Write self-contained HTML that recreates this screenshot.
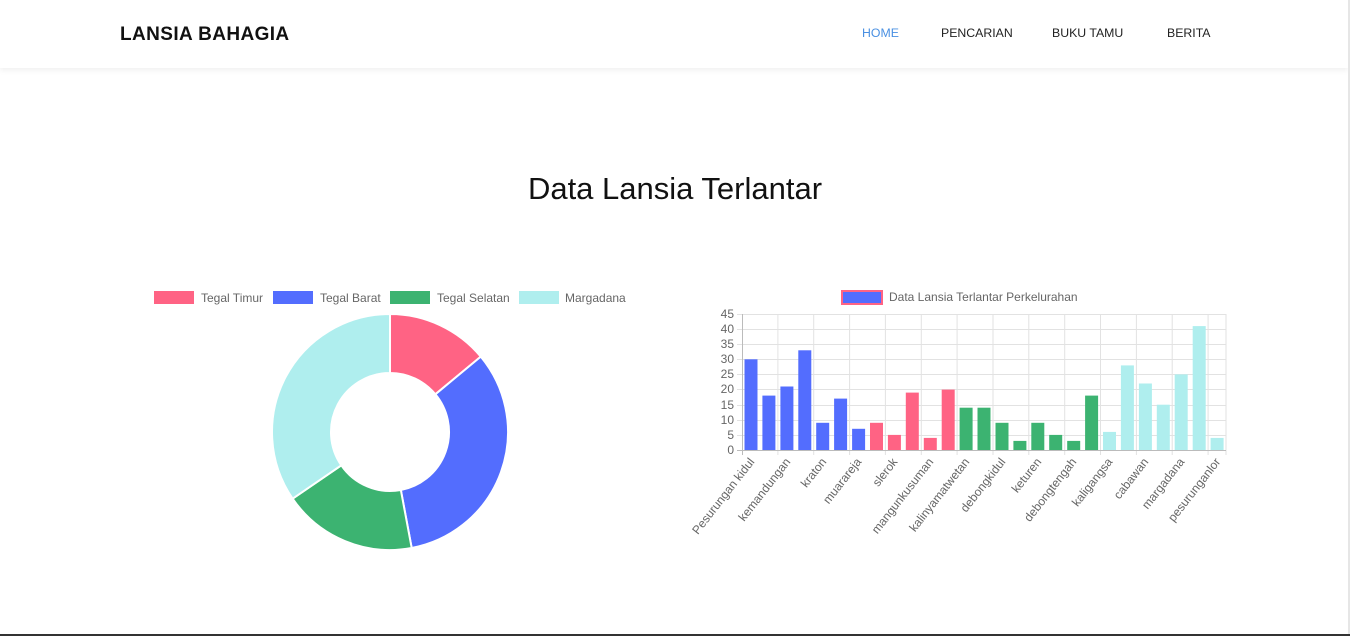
<!DOCTYPE html>
<html><head><meta charset="utf-8"><style>
body{margin:0;width:1350px;height:636px;background:#fff;font-family:"Liberation Sans",sans-serif;overflow:hidden;position:relative}
.nav{position:absolute;left:0;top:0;width:1348px;height:68px;background:#fff;box-shadow:0 2px 6px rgba(0,0,0,0.07)}
.brand{position:absolute;left:120px;top:24px;font-weight:bold;font-size:19px;letter-spacing:0.4px;color:#111}
.nav a{position:absolute;top:26px;font-size:12.3px;color:#222;text-decoration:none}
h1{position:absolute;top:171px;left:0;width:1350px;text-align:center;margin:0;font-weight:normal;font-size:31px;color:#111}
.sb{position:absolute;right:0;top:0;width:2px;height:636px;background:#e6e6e6}
.bot{position:absolute;left:0;bottom:0;width:1350px;height:2px;background:#333}
</style></head><body>
<div class="nav"><div class="brand">LANSIA BAHAGIA</div>
<a style="left:862px;color:#4a90e2">HOME</a><a style="left:941px">PENCARIAN</a><a style="left:1052px">BUKU TAMU</a><a style="left:1167px">BERITA</a></div>
<h1>Data Lansia Terlantar</h1>
<svg width="1350" height="636" style="position:absolute;left:0;top:0" font-family="Liberation Sans, sans-serif">
<g font-size="12" fill="#666">
<rect x="154" y="291" width="40" height="13" fill="#ff6384"/><text x="201" y="302">Tegal Timur</text>
<rect x="273" y="291" width="40" height="13" fill="#536dfe"/><text x="320" y="302">Tegal Barat</text>
<rect x="390" y="291" width="40" height="13" fill="#3cb371"/><text x="437" y="302">Tegal Selatan</text>
<rect x="519" y="291" width="40" height="13" fill="#afeeee"/><text x="565" y="302">Margadana</text>
</g>
<g stroke="#fff" stroke-width="2">
<path d="M390,314 A118,118 0 0 1 480.77,356.6 L435.38,394.3 A59,59 0 0 0 390,373 Z" fill="#ff6384"/>
<path d="M480.77,356.6 A118,118 0 0 1 411.69,548 L400.84,490 A59,59 0 0 0 435.38,394.3 Z" fill="#536dfe"/>
<path d="M411.69,548 A118,118 0 0 1 292.63,498.65 L341.31,465.32 A59,59 0 0 0 400.84,490 Z" fill="#3cb371"/>
<path d="M292.63,498.65 A118,118 0 0 1 390,314 L390,373 A59,59 0 0 0 341.31,465.32 Z" fill="#afeeee"/>
</g>
<rect x="842" y="291" width="40" height="13" fill="#536dfe" stroke="#ff6384" stroke-width="2"/>
<text x="889" y="301" font-size="12" fill="#666">Data Lansia Terlantar Perkelurahan</text>
<g stroke="#e2e2e2" stroke-width="1">
<line x1="737" x2="1226" y1="314.5" y2="314.5"/><line x1="737" x2="1226" y1="329.5" y2="329.5"/><line x1="737" x2="1226" y1="344.5" y2="344.5"/><line x1="737" x2="1226" y1="359.5" y2="359.5"/><line x1="737" x2="1226" y1="374.5" y2="374.5"/><line x1="737" x2="1226" y1="389.5" y2="389.5"/><line x1="737" x2="1226" y1="405.5" y2="405.5"/><line x1="737" x2="1226" y1="420.5" y2="420.5"/><line x1="737" x2="1226" y1="435.5" y2="435.5"/>
<line y1="314" y2="455" x1="777.9" x2="777.9"/><line y1="314" y2="455" x1="813.7" x2="813.7"/><line y1="314" y2="455" x1="849.6" x2="849.6"/><line y1="314" y2="455" x1="885.4" x2="885.4"/><line y1="314" y2="455" x1="921.3" x2="921.3"/><line y1="314" y2="455" x1="957.1" x2="957.1"/><line y1="314" y2="455" x1="993" x2="993"/><line y1="314" y2="455" x1="1028.8" x2="1028.8"/><line y1="314" y2="455" x1="1064.7" x2="1064.7"/><line y1="314" y2="455" x1="1100.5" x2="1100.5"/><line y1="314" y2="455" x1="1136.4" x2="1136.4"/><line y1="314" y2="455" x1="1172.2" x2="1172.2"/><line y1="314" y2="455" x1="1208.1" x2="1208.1"/><line y1="314" y2="455" x1="1226" x2="1226"/>
</g>
<line x1="742.5" x2="742.5" y1="314" y2="455" stroke="#bbb"/><line x1="737" x2="1226" y1="450.5" y2="450.5" stroke="#bbb"/>
<g font-size="12" fill="#666" text-anchor="end">
<text x="734" y="318">45</text><text x="734" y="333">40</text><text x="734" y="348">35</text><text x="734" y="363">30</text><text x="734" y="378">25</text><text x="734" y="393">20</text><text x="734" y="409">15</text><text x="734" y="424">10</text><text x="734" y="439">5</text><text x="734" y="454">0</text>
</g>
<g transform="translate(0,450) scale(1,-1)">
<g fill="#536dfe"><rect x="744.5" width="13" height="90.7"/><rect x="762.4" width="13" height="54.4"/><rect x="780.4" width="13" height="63.5"/><rect x="798.3" width="13" height="99.7"/><rect x="816.2" width="13" height="27.2"/><rect x="834.1" width="13" height="51.4"/><rect x="852.1" width="13" height="21.2"/></g>
<g fill="#ff6384"><rect x="870" width="13" height="27.2"/><rect x="887.9" width="13" height="15.1"/><rect x="905.8" width="13" height="57.4"/><rect x="923.8" width="13" height="12.1"/><rect x="941.7" width="13" height="60.4"/></g>
<g fill="#3cb371"><rect x="959.6" width="13" height="42.3"/><rect x="977.5" width="13" height="42.3"/><rect x="995.5" width="13" height="27.2"/><rect x="1013.4" width="13" height="9.1"/><rect x="1031.3" width="13" height="27.2"/><rect x="1049.2" width="13" height="15.1"/><rect x="1067.2" width="13" height="9.1"/><rect x="1085.1" width="13" height="54.4"/></g>
<g fill="#afeeee"><rect x="1103" width="13" height="18.1"/><rect x="1120.9" width="13" height="84.6"/><rect x="1138.9" width="13" height="66.5"/><rect x="1156.8" width="13" height="45.3"/><rect x="1174.7" width="13" height="75.6"/><rect x="1192.7" width="13" height="123.9"/><rect x="1210.6" width="13" height="12.1"/></g>
</g>
<g font-size="12" fill="#666" text-anchor="end">
<text transform="translate(755,462) rotate(-52)">Pesurungan kidul</text>
<text transform="translate(791,462) rotate(-52)">kemandungan</text>
<text transform="translate(827,462) rotate(-52)">kraton</text>
<text transform="translate(862,462) rotate(-52)">muarareja</text>
<text transform="translate(898,462) rotate(-52)">slerok</text>
<text transform="translate(934,462) rotate(-52)">mangunkusuman</text>
<text transform="translate(970,462) rotate(-52)">kalinyamatwetan</text>
<text transform="translate(1006,462) rotate(-52)">debongkidul</text>
<text transform="translate(1042,462) rotate(-52)">keturen</text>
<text transform="translate(1077,462) rotate(-52)">debongtengah</text>
<text transform="translate(1113,462) rotate(-52)">kaligangsa</text>
<text transform="translate(1149,462) rotate(-52)">cabawan</text>
<text transform="translate(1185,462) rotate(-52)">margadana</text>
<text transform="translate(1221,462) rotate(-52)">pesurunganlor</text>
</g>
</svg>
<div class="sb"></div><div class="bot"></div>
</body></html>
